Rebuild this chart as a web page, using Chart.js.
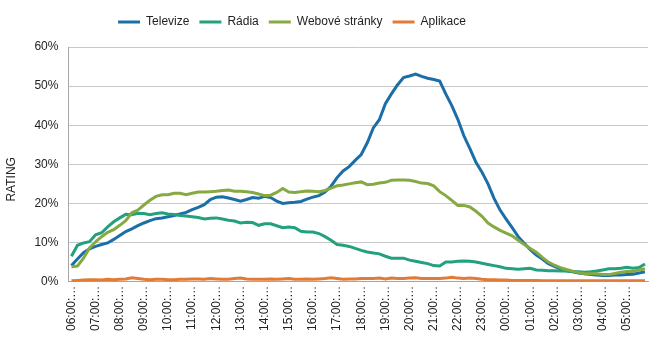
<!DOCTYPE html>
<html>
<head>
<meta charset="utf-8">
<script src="https://cdn.jsdelivr.net/npm/chart.js@4/dist/chart.umd.min.js"></script>
<style>
html,body{margin:0;padding:0;background:#fff;}
#wrap{width:650px;height:337px;position:relative;}
</style>
</head>
<body>
<div id="wrap"><canvas id="c" width="650" height="337"></canvas></div>
<script>
// Categories: 15-minute slots from 06:00 to 05:45
const categories = [
"06:00","06:15","06:30","06:45","07:00","07:15","07:30","07:45",
"08:00","08:15","08:30","08:45","09:00","09:15","09:30","09:45",
"10:00","10:15","10:30","10:45","11:00","11:15","11:30","11:45",
"12:00","12:15","12:30","12:45","13:00","13:15","13:30","13:45",
"14:00","14:15","14:30","14:45","15:00","15:15","15:30","15:45",
"16:00","16:15","16:30","16:45","17:00","17:15","17:30","17:45",
"18:00","18:15","18:30","18:45","19:00","19:15","19:30","19:45",
"20:00","20:15","20:30","20:45","21:00","21:15","21:30","21:45",
"22:00","22:15","22:30","22:45","23:00","23:15","23:30","23:45",
"00:00","00:15","00:30","00:45","01:00","01:15","01:30","01:45",
"02:00","02:15","02:30","02:45","03:00","03:15","03:30","03:45",
"04:00","04:15","04:30","04:45","05:00","05:15","05:30","05:45"
];

const seriesNames = ["Televize", "Rádia", "Webové stránky", "Aplikace"];

const televize = [
4.1,5.8,7.4,8.4,9.0,9.5,9.9,10.8,11.8,12.8,13.5,14.3,15.0,15.6,16.1,16.3,
16.6,16.9,17.3,17.7,18.4,19.0,19.7,21.0,21.6,21.7,21.4,21.0,20.6,21.0,21.5,21.3,
21.8,21.5,20.6,20.0,20.2,20.3,20.5,21.1,21.6,22.0,22.9,24.4,26.6,28.3,29.4,31.0,
32.5,35.5,39.3,41.4,45.5,48.0,50.3,52.2,52.6,53.1,52.5,52.0,51.7,51.3,48.0,45.0,
41.5,37.3,34.0,30.5,28.0,25.0,21.3,18.3,16.0,13.8,11.5,9.8,8.2,6.8,5.8,4.6,
3.9,3.3,2.8,2.5,2.2,2.0,1.8,1.7,1.6,1.6,1.7,1.7,1.8,1.9,2.2,2.5
];

const radia = [
6.5,9.3,9.9,10.2,12.0,12.5,14.0,15.3,16.3,17.2,17.1,17.5,17.4,17.1,17.4,17.6,
17.3,17.2,16.9,16.8,16.6,16.4,16.0,16.2,16.3,16.0,15.7,15.5,15.0,15.2,15.1,14.4,
14.8,14.8,14.3,13.8,14.0,13.8,12.9,12.7,12.7,12.3,11.5,10.6,9.5,9.3,9.0,8.5,
8.0,7.6,7.3,7.1,6.5,6.0,6.0,6.0,5.5,5.2,4.9,4.6,4.1,4.0,5.0,5.0,
5.2,5.3,5.2,5.0,4.7,4.4,4.1,3.8,3.4,3.3,3.2,3.3,3.4,3.0,2.9,2.8,
2.8,2.7,2.7,2.6,2.5,2.4,2.5,2.7,3.0,3.3,3.3,3.4,3.7,3.4,3.6,4.5
];

const webove = [
3.8,4.0,6.0,8.6,10.2,11.5,12.6,13.3,14.4,15.6,17.6,18.3,19.6,20.8,21.8,22.2,
22.2,22.6,22.6,22.2,22.6,22.9,22.9,23.0,23.1,23.3,23.4,23.1,23.1,23.0,22.8,22.4,
22.0,22.1,22.8,23.8,22.9,22.8,23.0,23.2,23.1,23.0,23.3,23.9,24.5,24.7,25.0,25.3,
25.5,24.8,24.9,25.2,25.4,25.9,26.0,26.0,25.9,25.6,25.2,25.1,24.5,23.0,22.0,20.8,
19.5,19.5,19.1,18.0,16.7,15.0,14.0,13.1,12.4,11.7,10.6,9.5,8.5,7.5,6.2,5.0,
4.2,3.6,3.1,2.7,2.3,2.0,2.0,2.0,1.8,1.8,2.1,2.4,2.6,2.6,3.0,3.3
];

const aplikace = [
0.2,0.3,0.4,0.5,0.5,0.4,0.6,0.5,0.6,0.7,1.0,0.8,0.6,0.5,0.6,0.6,
0.5,0.5,0.6,0.6,0.7,0.7,0.6,0.8,0.7,0.6,0.6,0.8,0.9,0.7,0.6,0.6,
0.6,0.7,0.6,0.7,0.8,0.6,0.6,0.7,0.6,0.7,0.8,1.0,0.8,0.6,0.7,0.7,
0.8,0.8,0.8,0.9,0.7,0.9,0.8,0.8,0.9,1.0,0.8,0.8,0.8,0.8,0.9,1.1,
0.9,0.8,0.9,0.8,0.6,0.5,0.5,0.4,0.4,0.3,0.3,0.3,0.3,0.3,0.2,0.2,
0.2,0.2,0.2,0.2,0.2,0.2,0.2,0.2,0.2,0.2,0.2,0.2,0.2,0.2,0.2,0.2
];

const yTicks = [0, 10, 20, 30, 40, 50, 60];
const colors = ["#1c6ea7", "#23a07d", "#87a942", "#e27b35"];
const FONT = "'Liberation Sans', Arial, sans-serif";
const LEGEND_FONT = "'Liberation Sans Narrow', 'Arial Narrow', 'Liberation Sans', sans-serif";

const legendTweak = {
  id: 'legendTweak',
  afterInit(chart) {
    const lg = chart.legend;
    if (!lg || lg._tweaked) return;
    const origFit = lg.fit.bind(lg);
    lg.fit = function () { origFit(); this.height += 9; };
    lg._tweaked = true;
  },
  afterLayout(chart) {
    const lg = chart.legend;
    if (!lg) return;
    const dx = 292 - (lg.left + lg.right) / 2;
    lg.left += dx; lg.right += dx;
  }
};

const allSeries = [televize, radia, webove, aplikace];
new Chart(document.getElementById('c'), {
  type: 'line',
  data: {
    labels: categories,
    datasets: allSeries.map((d, i) => ({
      label: seriesNames[i],
      data: d,
      borderColor: colors[i],
      backgroundColor: colors[i],
      borderWidth: 3,
      pointRadius: 0,
      tension: 0,
      fill: false,
      order: 3 - i
    }))
  },
  plugins: [legendTweak],
  options: {
    responsive: false,
    animation: false,
    layout: { padding: { left: 4, right: 2, top: 6, bottom: 2 } },
    plugins: {
      tooltip: { enabled: false },
      legend: {
        position: 'top',
        labels: {
          font: { family: LEGEND_FONT, size: 12 },
          color: '#222',
          boxWidth: 22,
          boxHeight: 3,
          padding: 10,
          sort: (a, b) => a.datasetIndex - b.datasetIndex,
          generateLabels: (chart) => Chart.defaults.plugins.legend.labels.generateLabels(chart).map(l => Object.assign(l, { lineWidth: 0 }))
        }
      }
    },
    scales: {
      x: {
        type: 'category',
        offset: true,
        afterFit: (s) => { s.paddingRight = 0; s.paddingLeft = 0; },
        grid: { display: false, drawTicks: false },
        border: { display: true, color: '#a6a6a6', width: 1 },
        ticks: {
          autoSkip: false,
          minRotation: 90,
          maxRotation: 90,
          padding: 4,
          color: '#222',
          font: { family: FONT, size: 12 },
          callback: function (v, i) { return i % 4 === 0 ? categories[i] + ':…' : ''; }
        }
      },
      y: {
        min: yTicks[0],
        max: yTicks[yTicks.length - 1],
        afterBuildTicks: (axis) => { axis.ticks = yTicks.map(v => ({ value: v })); },
        grid: { color: '#c8c8c8', lineWidth: 1, drawTicks: false },
        border: { display: true, color: '#a6a6a6', width: 1 },
        ticks: {
          padding: 10,
          color: '#222',
          font: { family: FONT, size: 12 },
          callback: (v) => v + '%'
        },
        title: {
          display: true,
          text: 'RATING' + '\u00a0'.repeat(9),
          color: '#222',
          font: { family: FONT, size: 12 },
          padding: { top: 0, bottom: 6 }
        }
      }
    }
  }
});
</script>
</body>
</html>
